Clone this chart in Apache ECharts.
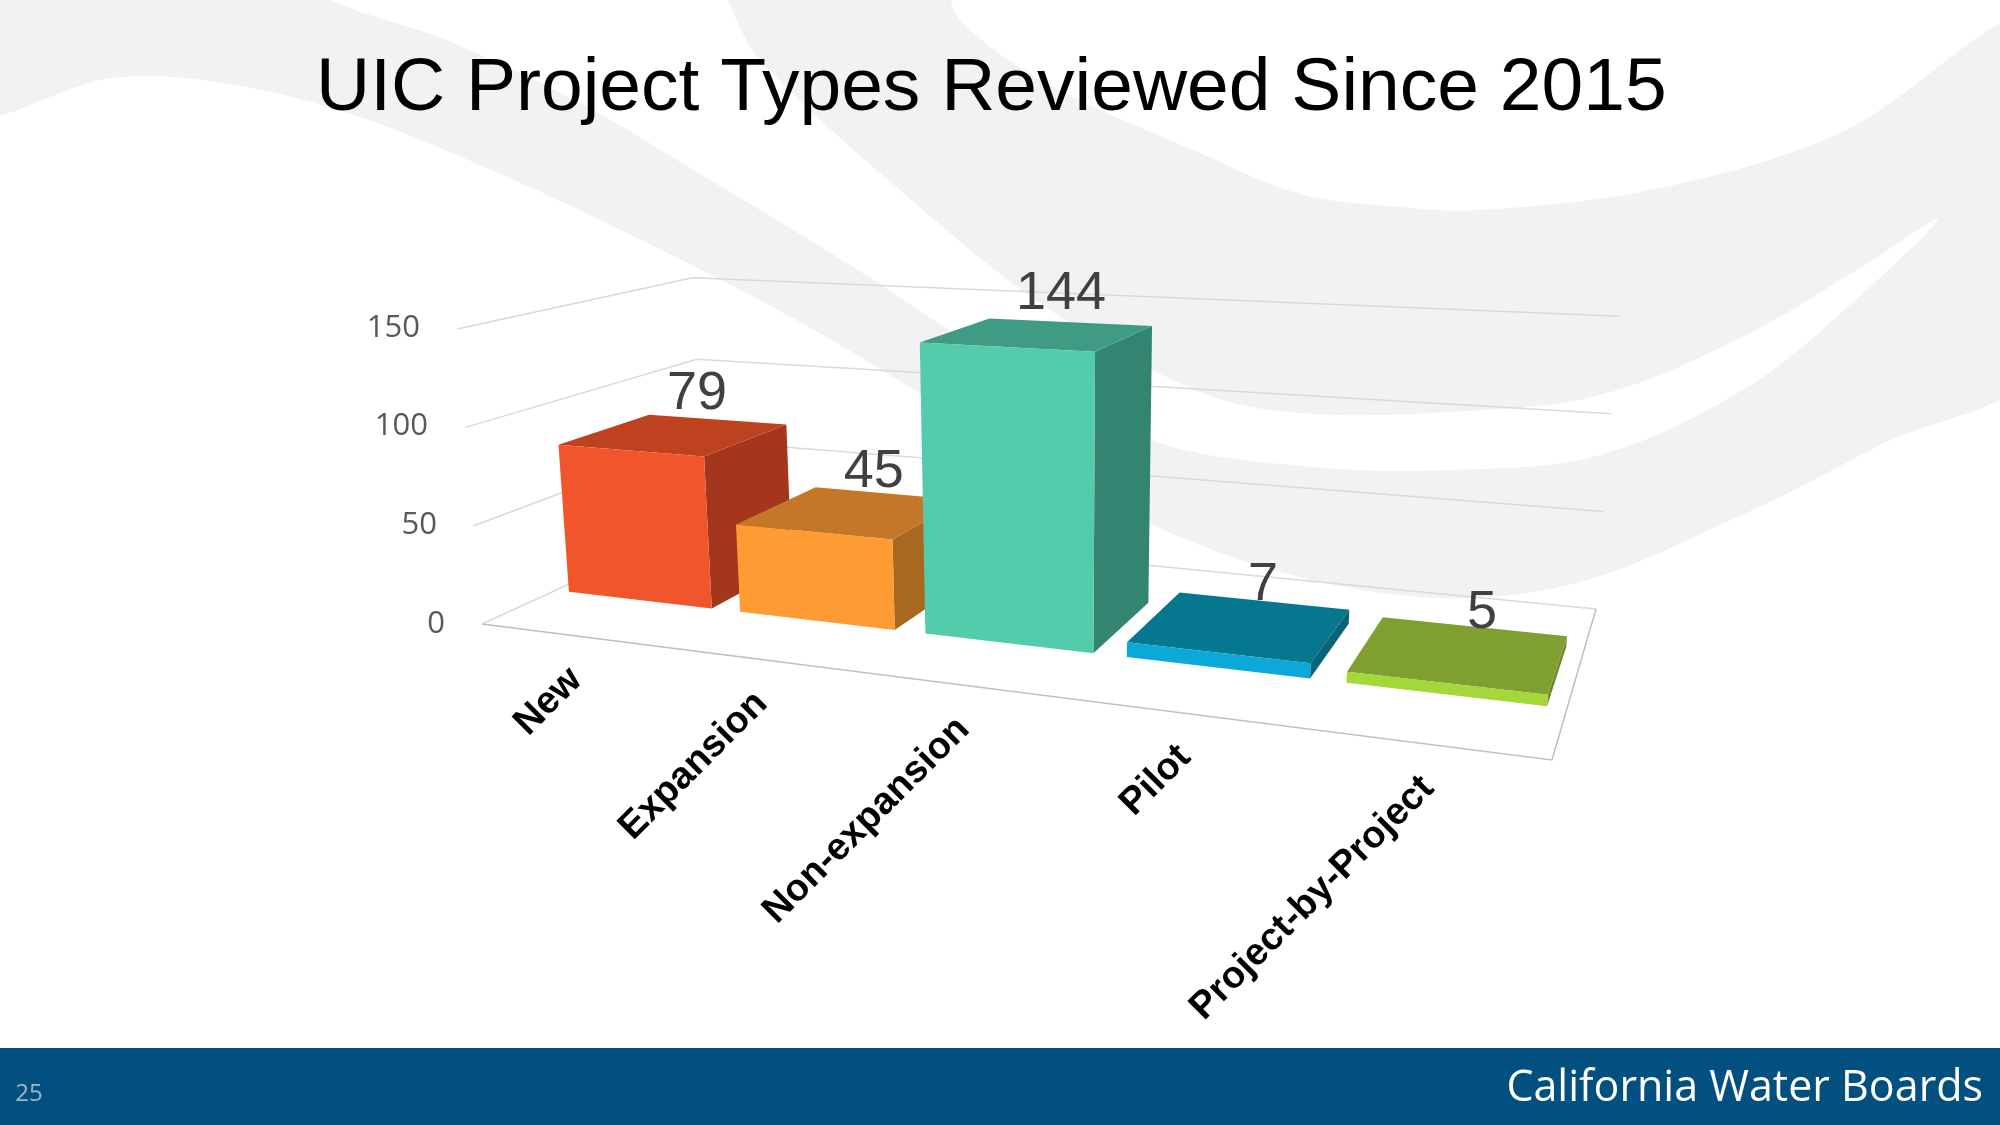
<!DOCTYPE html>
<html>
<head>
<meta charset="utf-8">
<title>UIC Project Types Reviewed Since 2015</title>
<style>
  html, body { margin: 0; padding: 0; background: #fff; }
  #main { width: 2000px; height: 1125px; }
</style>
<script src="https://cdn.jsdelivr.net/npm/echarts@6/dist/echarts.min.js"></script>
</head>
<body>
<div id="main"></div>
<script>
const categories = ['New', 'Expansion', 'Non-expansion', 'Pilot', 'Project-by-Project']
const reviewed = [79, 45, 144, 7, 5]
const yTicks = [0, 50, 100, 150]

// front, top, side
const faceColors = [
    ['#F1552C', '#BF4220', '#A3361D'],
    ['#FF9B33', '#C47827', '#A8681F'],
    ['#54CBAA', '#3F9B83', '#338470'],
    ['#0BA8D8', '#05778F', '#06637A'],
    ['#A5D63A', '#7F9F31', '#6C8A2A']
]

const gridBox = { left: 455, top: 328, width: 1097, height: 296 }

// 3d look: floor corners (front-left, front-right, back-right, back-left)
// and the point the vertical edges run towards
const floorQuad = [[482, 624], [1552, 760], [1596, 609], [705, 522]]
const vanish = [1057, 7451]
const barDepth = [0.29, 0.69]
const barShare = 0.84

const squareToQuad = pts => {
    const [[x0, y0], [x1, y1], [x2, y2], [x3, y3]] = pts
    const dx1 = x1 - x2, dx2 = x3 - x2, dx3 = x0 - x1 + x2 - x3
    const dy1 = y1 - y2, dy2 = y3 - y2, dy3 = y0 - y1 + y2 - y3
    const den = dx1 * dy2 - dx2 * dy1
    const g = (dx3 * dy2 - dx2 * dy3) / den
    const h = (dx1 * dy3 - dx3 * dy1) / den
    const a = x1 - x0 + g * x1, b = x3 - x0 + h * x3
    const d = y1 - y0 + g * y1, e = y3 - y0 + h * y3
    return (u, v) => {
        const q = g * u + h * v + 1
        return [(a * u + b * v + x0) / q, (d * u + e * v + y0) / q, q]
    }
}
const onFloor = squareToQuad(floorQuad)

// t: across the floor, w: into the depth, hpx: height as the value axis gives it
const project = (t, w, hpx) => {
    const [x, y, q] = onFloor(t, w)
    const dx = x - vanish[0], dy = y - vanish[1]
    const len = Math.hypot(dx, dy)
    const hh = hpx / q
    return [x + dx / len * hh, y + dy / len * hh]
}

// the tick labels follow the leaning front edge of the left wall
const yMax = yTicks[yTicks.length - 1]
const lean = v => Math.max(0, Math.round(floorQuad[0][0] - project(0, 0, v / yMax * gridBox.height)[0]))
const tickRich = {}
yTicks.forEach(v => {
    tickRich['t' + v] = { padding: [0, lean(v), 0, 0], color: '#595959', fontSize: 31, fontFamily: '"Open Sans", sans-serif' }
})

const gridRender = (params, api) => {
    const cs = params.coordSys
    const v = api.value(1)
    const hpx = cs.y + cs.height - api.coord([0, v])[1]
    const children = [{
        type: 'polyline',
        shape: { points: [project(0, 0, hpx), project(0, 1, hpx), project(1, 1, hpx)] },
        style: { stroke: '#D9D9D9', lineWidth: 1.5, fill: null }
    }]
    if (v === 0) {
        children.push({
            type: 'polyline',
            shape: { points: [project(0, 0, 0), project(1, 0, 0), project(1, 1, 0)] },
            style: { stroke: '#BFBFBF', lineWidth: 1.5, fill: null }
        })
    }
    return { type: 'group', children }
}

const barRender = (params, api) => {
    const cs = params.coordSys
    const i = api.value(0), v = api.value(1)
    const base = api.coord([i, 0])
    const hpx = base[1] - api.coord([i, v])[1]
    const tc = (base[0] - cs.x) / cs.width
    const half = api.size([1, 0])[0] / cs.width * barShare / 2
    const t0 = tc - half, t1 = tc + half
    const [w0, w1] = barDepth
    const c = faceColors[params.dataIndex]
    const front = [project(t0, w0, 0), project(t1, w0, 0), project(t1, w0, hpx), project(t0, w0, hpx)]
    const top = [project(t0, w0, hpx), project(t1, w0, hpx), project(t1, w1, hpx), project(t0, w1, hpx)]
    const side = [project(t1, w0, 0), project(t1, w1, 0), project(t1, w1, hpx), project(t1, w0, hpx)]
    const valueAt = project(tc, (w0 + w1) / 2, hpx)
    const nameAt = project(tc, 0, 0)
    return {
        type: 'group',
        children: [
            { type: 'polygon', shape: { points: side }, style: { fill: c[2] } },
            { type: 'polygon', shape: { points: top }, style: { fill: c[1] } },
            { type: 'polygon', shape: { points: front }, style: { fill: c[0] } },
            {
                type: 'text', z2: 100,
                x: valueAt[0] + 22, y: valueAt[1] - 40,
                style: {
                    text: String(v), fill: '#404040',
                    font: '54px "Liberation Sans", Arial, sans-serif',
                    align: 'center', verticalAlign: 'middle',
                    textAlign: 'center', textVerticalAlign: 'middle'
                }
            },
            {
                type: 'text', z2: 100,
                x: nameAt[0] + 7, y: nameAt[1] + 39,
                rotation: Math.PI / 4,
                style: {
                    text: categories[i], fill: '#000',
                    font: 'bold 38px "Liberation Sans", Arial, sans-serif',
                    align: 'right', verticalAlign: 'middle',
                    textAlign: 'right', textVerticalAlign: 'middle'
                }
            }
        ]
    }
}

// light grey sweeps of the slide background
const swooshes = [
    [[-40, -40], [930, -40], [960, 20], [1050, 85], [1200, 153], [1300, 194], [1390, 206], [1480, 210], [1660, 188],
     [1840, 133], [2040, 20], [2040, 360], [1880, 445], [1746, 513], [1568, 585], [1400, 595], [1200, 545],
     [1000, 440], [800, 322], [625, 232], [491, 170], [357, 116], [223, 83], [112, 78], [-40, 115]]
]
const whiteCuts = [
    [[270, -40], [689, -40], [760, 60], [900, 190], [1050, 310], [1200, 392], [1300, 413], [1450, 412], [1600, 395],
     [1746, 335], [1860, 268], [1938, 219], [1850, 305], [1746, 388], [1600, 455], [1450, 470], [1300, 466],
     [1150, 440], [1000, 362], [850, 265], [700, 174], [580, 103], [446, 40], [330, 0]]
]

const chart = echarts.init(document.getElementById('main'))
chart.setOption({
    backgroundColor: '#fff',
    animation: false,
    title: {
        text: 'UIC Project Types Reviewed Since 2015',
        left: 316, top: 52, padding: 0,
        textStyle: { fontFamily: '"Liberation Sans", Arial, sans-serif', fontSize: 75, fontWeight: 'normal', color: '#000', lineHeight: 75 }
    },
    graphic: [
        ...swooshes.map(p => ({ type: 'polygon', z: -10, silent: true, shape: { points: p, smooth: 0.35 }, style: { fill: '#F2F2F2' } })),
        ...whiteCuts.map(p => ({ type: 'polygon', z: -9, silent: true, shape: { points: p, smooth: 0.35 }, style: { fill: '#fff' } })),
        { type: 'rect', z: 5, shape: { x: 0, y: 1048, width: 2000, height: 77 }, style: { fill: '#02507F' } },
        {
            type: 'text', z: 6, x: 1983, y: 1089,
            style: { text: 'California Water Boards', fill: '#fff', font: '43px "Open Sans", sans-serif', align: 'right', verticalAlign: 'middle', textAlign: 'right', textVerticalAlign: 'middle' }
        },
        {
            type: 'text', z: 6, x: 29, y: 1094,
            style: { text: '25', fill: '#9DB4C8', font: '24px "Open Sans", sans-serif', align: 'center', verticalAlign: 'middle', textAlign: 'center', textVerticalAlign: 'middle' }
        }
    ],
    grid: { left: gridBox.left, top: gridBox.top, width: gridBox.width, height: gridBox.height, containLabel: false, outerBoundsMode: 'none' },
    xAxis: {
        type: 'category',
        data: categories,
        axisLine: { show: false }, axisTick: { show: false }, axisLabel: { show: false }, splitLine: { show: false }
    },
    yAxis: {
        type: 'value',
        min: 0, max: yMax, interval: 50,
        axisLine: { show: false }, axisTick: { show: false }, splitLine: { show: false },
        axisLabel: {
            margin: 10, color: '#595959', fontSize: 31, fontFamily: '"Open Sans", sans-serif',
            formatter: v => '{t' + v + '|' + v + '}',
            rich: tickRich
        }
    },
    series: [
        {
            type: 'custom', name: 'grid', z: 1, silent: true,
            renderItem: gridRender,
            encode: { x: 0, y: 1 },
            data: yTicks.map(v => [0, v])
        },
        {
            type: 'custom', name: 'Reviewed', z: 2,
            renderItem: barRender,
            encode: { x: 0, y: 1 },
            data: reviewed.map((v, i) => [i, v])
        }
    ]
})
</script>
</body>
</html>
